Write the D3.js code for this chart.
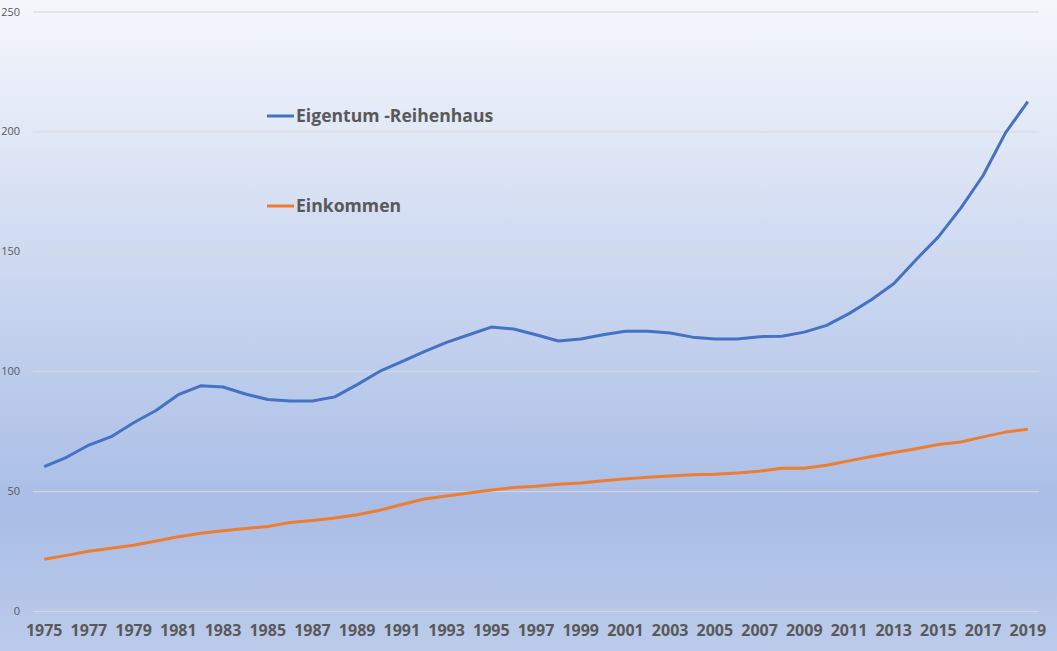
<!DOCTYPE html>
<html>
<head>
<meta charset="utf-8">
<script src="https://cdn.jsdelivr.net/npm/d3@7"></script>
<style>
  body { margin: 0; }
  svg { display: block; }
</style>
</head>
<body>
<svg id="chart" width="1057" height="651"></svg>
<script>
// Jahre (Kategorien)
var years = d3.range(1975, 2020);

// Index-Werte
var eigentum = [
   60.2, 64.1, 69.2, 72.7, 78.5, 83.6, 90.2, 93.9, 93.4, 90.5,
   88.2, 87.6, 87.6, 89.3, 94.4, 99.9, 104.0, 108.2, 112.0, 115.2,
   118.4, 117.6, 115.2, 112.6, 113.4, 115.2, 116.7, 116.7, 115.9, 114.2,
   113.4, 113.4, 114.4, 114.6, 116.3, 119.1, 124.0, 129.8, 136.5, 146.5,
   156.0, 168.0, 181.6, 199.4, 212.4,
];
var einkommen = [
   21.6, 23.2, 24.9, 26.2, 27.4, 29.2, 31.0, 32.4, 33.5, 34.4,
   35.2, 36.9, 37.7, 38.8, 40.1, 42.0, 44.4, 46.7, 48.0, 49.2,
   50.5, 51.5, 52.0, 52.9, 53.4, 54.3, 55.1, 55.8, 56.3, 56.8,
   57.0, 57.5, 58.3, 59.5, 59.5, 60.8, 62.6, 64.4, 66.1, 67.7,
   69.4, 70.5, 72.6, 74.6, 75.8,
];
var yTicks = [0, 50, 100, 150, 200, 250];
var xTickYears = years.filter((d) => (d - 1975) % 2 === 0);

var series = [
   { name: "Eigentum -Reihenhaus", values: eigentum, color: "#4472c4" },
   { name: "Einkommen", values: einkommen, color: "#ed7d31" },
];

var width = 1057,
   height = 651;
var plotLeft = 33,
   plotRight = 1039,
   plotTop = 11.5,
   plotBottom = 611;

var svg = d3.select("svg#chart");

// Hintergrund mit Verlauf
var grad = svg
   .append("defs")
   .append("linearGradient")
   .attr("id", "bg")
   .attr("x1", 0)
   .attr("y1", 0)
   .attr("x2", 0)
   .attr("y2", 1);
grad.append("stop").attr("offset", "0%").attr("stop-color", "#f5f7fc");
grad.append("stop").attr("offset", "78%").attr("stop-color", "#a9bde6");
grad.append("stop").attr("offset", "100%").attr("stop-color", "#bccbea");

svg
   .append("rect")
   .attr("width", width)
   .attr("height", height)
   .attr("fill", "url(#bg)");

var x = d3.scaleBand().domain(years).range([plotLeft, plotRight]);
var y = d3.scaleLinear().domain([0, 250]).range([plotBottom, plotTop]);

// Gitterlinien + y-Beschriftung
var yAxis = svg
   .append("g")
   .attr("transform", "translate(" + plotLeft + ",0)")
   .call(
      d3
         .axisLeft(y)
         .tickValues(yTicks)
         .tickSize(-(plotRight - plotLeft))
         .tickPadding(13)
   );
yAxis.select(".domain").remove();
yAxis
   .selectAll("line")
   .attr("stroke", "#d9d9d9")
   .attr("stroke-width", 1);
yAxis
   .selectAll("text")
   .attr("fill", "#595959")
   .style("font-family", "'Open Sans', sans-serif")
   .style("font-size", "11px");

// x-Achse
var xAxis = svg
   .append("g")
   .attr("transform", "translate(0," + plotBottom + ")")
   .call(d3.axisBottom(x).tickValues(xTickYears).tickSize(0).tickPadding(14));
xAxis.select(".domain").remove();
xAxis
   .selectAll("text")
   .attr("fill", "#595959")
   .style("font-family", "'Open Sans', sans-serif")
   .style("font-weight", "bold")
   .style("font-size", "16px");

// Linien
var line = d3
   .line()
   .x((d, i) => x(years[i]) + x.bandwidth() / 2)
   .y((d) => y(d));

svg
   .selectAll("path.series")
   .data(series)
   .enter()
   .append("path")
   .attr("class", "series")
   .attr("fill", "none")
   .attr("stroke", (d) => d.color)
   .attr("stroke-width", 3)
   .attr("stroke-linejoin", "round")
   .attr("d", (d) => line(d.values));

// Legende
var legend = svg
   .selectAll("g.legend")
   .data(series)
   .enter()
   .append("g")
   .attr("class", "legend")
   .attr("transform", (d, i) => "translate(267," + (116 + i * 90) + ")");
legend
   .append("line")
   .attr("x1", 0)
   .attr("x2", 27)
   .attr("stroke", (d) => d.color)
   .attr("stroke-width", 3);
legend
   .append("text")
   .attr("x", 29)
   .attr("dy", "0.35em")
   .attr("fill", "#595959")
   .style("font-family", "'Open Sans', sans-serif")
   .style("font-weight", "bold")
   .style("font-size", "17.6px")
   .text((d) => d.name);
</script>
</body>
</html>
